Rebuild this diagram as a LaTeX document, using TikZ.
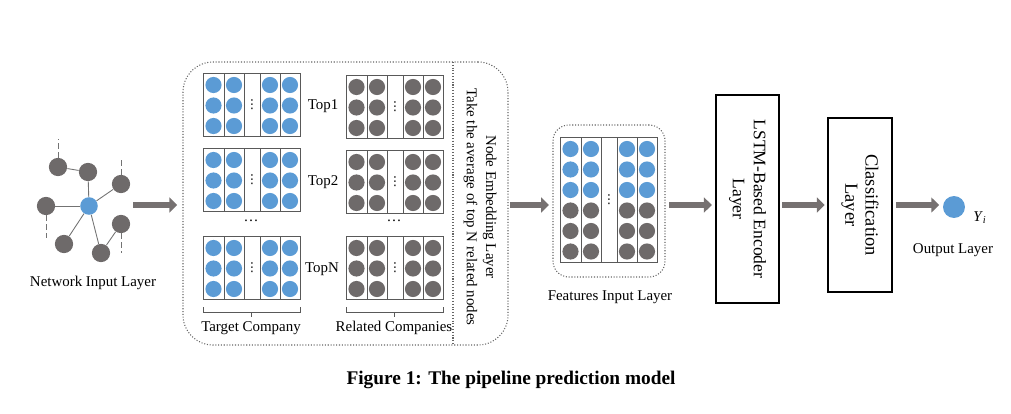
\documentclass[tikz,border=0pt]{standalone}
\usepackage{fontspec}
\setmainfont{Liberation Serif}
\newfontfamily\symfont{DejaVu Sans}
\usetikzlibrary{shapes}
\usetikzlibrary{arrows.meta}
\usetikzlibrary{positioning}
\usetikzlibrary{calc}
\usetikzlibrary{fit}

\definecolor{embblue}{HTML}{5B9BD5}
\definecolor{embgray}{HTML}{6E6A6A}
\definecolor{flowgray}{HTML}{767171}
\newcommand{\figfont}{\fontsize{8.5}{11}\selectfont}

\tikzset{
    pics/embmat/.style 2 args={code={
        \draw[matline] (0,0) rectangle (97,20.5*#1+2);
        \foreach \cx in {21,41,57,77} \draw[matline] (\cx,0) -- (\cx,20.5*#1+2);
        \foreach \r in {1,...,#1} {
            \ifnum\r>#2 \def\dotcol{embgray}\else\def\dotcol{embblue}\fi
            \foreach \cx in {10.5,31,67,87} \fill[\dotcol] (\cx,20.5*\r-8.5) circle (4.6pt);
        }
        \node[font=\symfont\fontsize{7}{8}\selectfont, inner sep=0] (-dots) at (49,10.25*#1+1) {⋮};
    }}
}

\begin{document}
\begin{tikzpicture}[
        x=0.02cm, y=-0.02cm,
        every node/.style={font=\figfont},
        matline/.style = {draw=black!65, line width=0.5pt},
        netnode/.style = {circle, fill=embgray, inner sep=0, minimum size=10.4pt},
        hubnode/.style = {circle, fill=embblue, inner sep=0, minimum size=10pt},
        netedge/.style = {draw=black!55, line width=0.5pt},
        netdash/.style = {draw=black!55, densely dashed, line width=0.4pt},
        layerbox/.style = {draw, line width=0.7pt, inner sep=0},
        dotbox/.style = {draw=black!60, densely dotted, line width=0.6pt, inner sep=0},
        flow/.style = {draw=flowgray, line width=3.4pt,
                       -{Triangle[length=4.5pt, width=8.5pt]}, fill=flowgray}
        ]
        \useasboundingbox (0,0) rectangle (1011,413);

        % network input layer
        \node[hubnode] (hub) at (89,206) {};
        \node[netnode] (n1) at (58,167) {};
        \node[netnode] (n2) at (88,172) {};
        \node[netnode] (n3) at (121,184) {};
        \node[netnode] (n4) at (46,206) {};
        \node[netnode] (n5) at (64,244) {};
        \node[netnode] (n6) at (101,253) {};
        \node[netnode] (n7) at (121,224) {};
        \draw[netedge] (hub) -- (n2);
        \draw[netedge] (hub) -- (n3);
        \draw[netedge] (hub) -- (n4);
        \draw[netedge] (hub) -- (n5);
        \draw[netedge] (hub) -- (n6);
        \draw[netedge] (n1) -- (n2);
        \draw[netedge] (n7) -- (n6);
        \coordinate (d1) at (58,139);
        \coordinate (d3) at (121,158);
        \coordinate (d4) at (46,238);
        \coordinate (d7) at (121,253);
        \draw[netdash] (n1) -- (d1);
        \draw[netdash] (n3) -- (d3);
        \draw[netdash] (n4) -- (d4);
        \draw[netdash] (n7) -- (d7);
        \node (netlabel) at (93,283) {Network Input Layer};

        % node embedding layer
        \node[dotbox, rounded corners=17pt, fit={(183,62) (508,345)}] (embbox) {};
        \draw[dotbox] (453,62) -- (453,345);
        \pic (tc1) at (203,73) {embmat={3}{3}};
        \pic (tc2) at (203,148) {embmat={3}{3}};
        \pic (tcn) at (203,236) {embmat={3}{3}};
        \pic (rc1) at (346,75) {embmat={3}{0}};
        \pic (rc2) at (346,150) {embmat={3}{0}};
        \pic (rcn) at (346,236) {embmat={3}{0}};
        \node (top1) at (323,106) {Top1};
        \node (top2) at (323,182) {Top2};
        \node (topn) at (322,269) {TopN};
        \node (tcgap) at (251,221) {\dots};
        \node (rcgap) at (394,221) {\dots};
        \draw[matline] (203,307) -- (203,312) -- (300,312) -- (300,307);
        \draw[matline] (251,312) -- (251,317);
        \draw[matline] (346,307) -- (346,312) -- (443,312) -- (443,307);
        \draw[matline] (394,312) -- (394,317);
        \node (tclabel) at (251,328) {Target Company};
        \node (rclabel) at (394,328) {Related Companies};
        \node[rotate=-90, align=center] (emblabel) at (480,207)
            {Node Embedding Layer\\Take the average of top N related nodes};

        % features input layer
        \node[dotbox, rounded corners=9pt, fit={(553,125) (665,277)}] (featbox) {};
        \pic (feat) at (560,137) {embmat={6}{3}};
        \node (featlabel) at (610,297) {Features Input Layer};

        % encoder, classifier, output
        \node[layerbox, fit={(716,95) (779,303)}] (lstm) {};
        \node[rotate=-90, align=center, font=\fontsize{10}{12}\selectfont] (lstmtext)
            at (lstm.center) {LSTM-Based Encoder\\Layer};
        \node[layerbox, fit={(828,118) (892,292)}] (cls) {};
        \node[rotate=-90, align=center, font=\fontsize{10.5}{11.5}\selectfont] (clstext)
            at (cls.center) {Classification\\Layer};
        \node[circle, fill=embblue, inner sep=0, minimum size=12.5pt] (out) at (954,207) {};
        \node (ylabel) at (980,218) {\textit{Y}\textsubscript{\textit{i}}};
        \node (outlabel) at (953,250) {Output Layer};

        % flow arrows
        \coordinate (netout) at (133,205);
        \draw[flow] (netout) -- ([xshift=-3pt]embbox.west |- netout);
        \draw[flow] ([xshift=1pt]embbox.east |- netout) -- ([xshift=-2pt]featbox.west |- netout);
        \draw[flow] ([xshift=2pt]featbox.east |- netout) -- ([xshift=-2pt]lstm.west |- netout);
        \draw[flow] ([xshift=1.5pt]lstm.east |- netout) -- ([xshift=-1.5pt]cls.west |- netout);
        \draw[flow] ([xshift=2pt]cls.east |- netout) -- ([xshift=-2pt]out.west |- netout);

        \node[font=\fontsize{11}{13}\selectfont\bfseries] (caption) at (511,380)
            {Figure 1: The pipeline prediction model};
    \end{tikzpicture}
\end{document}
